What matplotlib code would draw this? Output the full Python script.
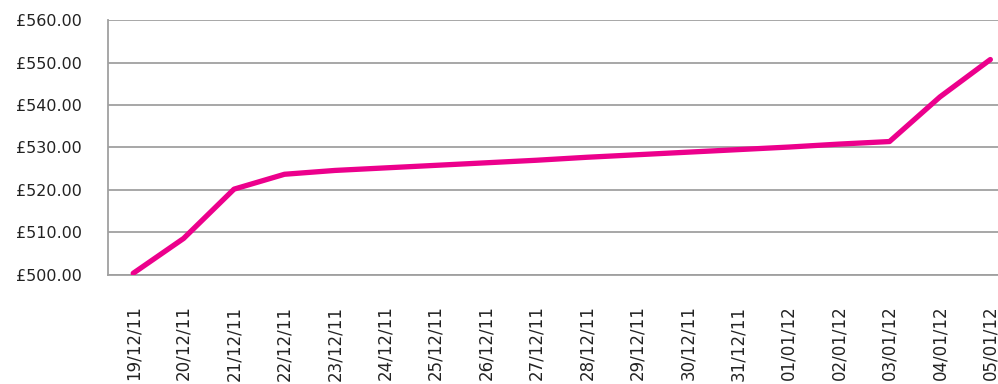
import numpy as np
import matplotlib.pyplot as plt

# dates shown on the category axis
dates = ['19/12/11', '20/12/11', '21/12/11', '22/12/11', '23/12/11', '24/12/11',
         '25/12/11', '26/12/11', '27/12/11', '28/12/11', '29/12/11', '30/12/11',
         '31/12/11', '01/01/12', '02/01/12', '03/01/12', '04/01/12', '05/01/12']
# balance in pounds
balance = [500.4, 508.6, 520.2, 523.7, 524.6, 525.2, 525.8, 526.4, 527.0,
           527.7, 528.3, 528.9, 529.5, 530.1, 530.8, 531.4, 541.9, 550.7]
yticks = [500, 510, 520, 530, 540, 550, 560]

fig = plt.figure(figsize=(9.98, 3.84), dpi=100)
# axes runs off the right edge like the original
ax = fig.add_axes([0.1082, 0.2839, 0.9094, 0.664])

x = np.arange(len(dates))
ax.plot(x, balance, color='#ec008c', lw=3.8, solid_capstyle='round',
        solid_joinstyle='round', zorder=3)

ax.set_xlim(-0.5, len(dates) - 0.5)
ax.set_ylim(500, 560)
ax.set_yticks(yticks)
ax.set_yticklabels(['£%.2f' % v for v in yticks])
ax.set_xticks(x)
ax.set_xticklabels(dates, rotation=90, ha='center', va='top')

ax.grid(axis='y', color='#a0a0a0', lw=1.3)
ax.set_axisbelow(True)
for s in ['top', 'right']:
    ax.spines[s].set_visible(False)
for s in ['left', 'bottom']:
    ax.spines[s].set_color('#a0a0a0')
    ax.spines[s].set_linewidth(1.3)

ax.tick_params(axis='y', length=0, pad=19, labelsize=11.5, labelcolor='#222222')
ax.tick_params(axis='x', length=0, pad=22, labelsize=12, labelcolor='#222222')

fig.savefig('out.png', dpi=100)
